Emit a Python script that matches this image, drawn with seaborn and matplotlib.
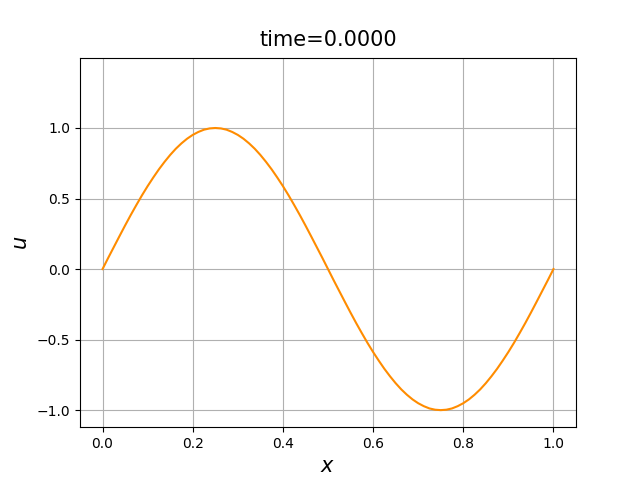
import numpy as np
import pandas as pd
import matplotlib
matplotlib.use("Agg")
import matplotlib.pyplot as plt
import seaborn as sns

# values at steps of 0.0125
x = [0.0, 0.0125, 0.025, 0.0375, 0.05, 0.0625, 0.075, 0.0875, 0.1, 0.1125,
     0.125, 0.1375, 0.15, 0.1625, 0.175, 0.1875, 0.2, 0.2125, 0.225, 0.2375,
     0.25, 0.2625, 0.275, 0.2875, 0.3, 0.3125, 0.325, 0.3375, 0.35, 0.3625,
     0.375, 0.3875, 0.4, 0.4125, 0.425, 0.4375, 0.45, 0.4625, 0.475, 0.4875,
     0.5, 0.5125, 0.525, 0.5375, 0.55, 0.5625, 0.575, 0.5875, 0.6, 0.6125,
     0.625, 0.6375, 0.65, 0.6625, 0.675, 0.6875, 0.7, 0.7125, 0.725, 0.7375,
     0.75, 0.7625, 0.775, 0.7875, 0.8, 0.8125, 0.825, 0.8375, 0.85, 0.8625,
     0.875, 0.8875, 0.9, 0.9125, 0.925, 0.9375, 0.95, 0.9625, 0.975, 0.9875,
     1.0]
u = [0.0, 0.079, 0.156, 0.233, 0.309, 0.383, 0.454, 0.523, 0.588, 0.649,
     0.707, 0.760, 0.809, 0.853, 0.891, 0.924, 0.951, 0.972, 0.988, 0.997,
     1.0, 0.997, 0.988, 0.972, 0.951, 0.924, 0.891, 0.853, 0.809, 0.760,
     0.707, 0.649, 0.588, 0.523, 0.454, 0.383, 0.309, 0.233, 0.156, 0.079,
     0.0, -0.079, -0.156, -0.233, -0.309, -0.383, -0.454, -0.523, -0.588, -0.649,
     -0.707, -0.760, -0.809, -0.853, -0.891, -0.924, -0.951, -0.972, -0.988, -0.997,
     -1.0, -0.997, -0.988, -0.972, -0.951, -0.924, -0.891, -0.853, -0.809, -0.760,
     -0.707, -0.649, -0.588, -0.523, -0.454, -0.383, -0.309, -0.233, -0.156, -0.079,
     0.0]
time = 0.0

df = pd.DataFrame({"x": x, "u": u})

fig, ax = plt.subplots(figsize=(6.4, 4.8), dpi=100)
sns.lineplot(data=df, x="x", y="u", color="darkorange", ax=ax)
ax.set_ylim(-1.121, 1.499)
ax.set_yticks([-1.0, -0.5, 0.0, 0.5, 1.0])
ax.set_xlabel("$x$", fontsize=15)
ax.set_ylabel("$u$", fontsize=15)
ax.set_title(f"time={time:.4f}", fontsize=15, pad=8)
ax.grid(True)

plt.savefig("out.png", dpi=100)
